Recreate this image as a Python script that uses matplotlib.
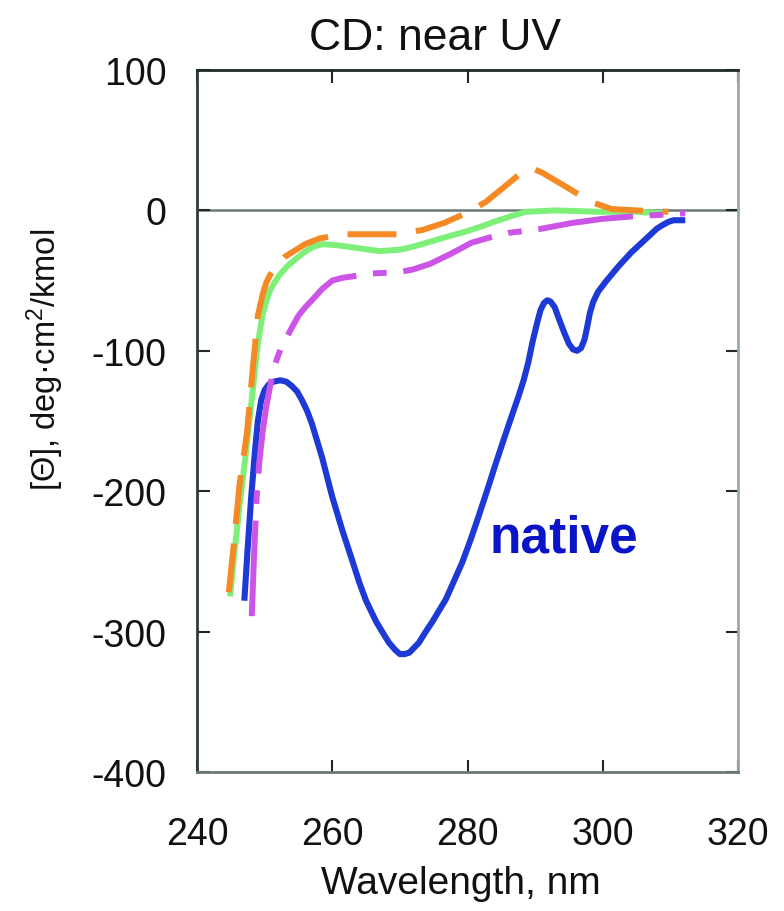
import matplotlib
matplotlib.use("Agg")
import matplotlib.pyplot as plt

plt.rcParams["font.family"] = ["Liberation Sans", "DejaVu Sans"]
plt.rcParams["mathtext.fontset"] = "custom"
plt.rcParams["mathtext.rm"] = "Liberation Sans"
plt.rcParams["mathtext.it"] = "Liberation Sans:italic"
plt.rcParams["mathtext.bf"] = "Liberation Sans:bold"
plt.rcParams["axes.unicode_minus"] = False

# Near-UV CD spectra: mean residue ellipticity vs wavelength
native_wl = [247.0, 247.5, 248.0, 248.6, 249.0, 249.5, 250.0, 250.6, 251.3, 252.3,
             253.2, 254.0, 254.8, 255.5, 256.3, 257.0, 258.5, 260.0, 261.5, 263.0,
             264.0, 265.0, 266.0, 266.5, 267.5, 268.4, 269.3, 270.0, 270.7, 271.4,
             272.0, 272.8, 273.7, 274.8, 275.8, 276.8, 278.0, 279.2, 280.5, 281.7,
             283.0, 284.2, 285.3, 286.5, 287.5, 288.3, 289.0, 289.6, 290.3, 290.8,
             291.3, 291.8, 292.3, 292.9, 293.5, 294.3, 295.0, 295.6, 296.2, 296.8,
             297.3, 297.7, 298.1, 298.6, 299.3, 300.4, 302.3, 304.2, 306.0, 308.0,
             309.0, 309.8, 310.5, 312.2]
native_theta = [-278, -240, -205, -170, -150, -135, -128, -124, -122, -121,
                -122, -125, -129, -135, -143, -152, -176, -204, -228, -250,
                -265, -278, -288, -293, -301, -308, -313, -316, -316, -315,
                -312, -308, -301, -293, -285, -277, -264, -251, -234, -217,
                -198, -180, -164, -147, -133, -121, -108, -94, -80, -71,
                -66, -64, -65, -69, -77, -87, -95, -99, -100, -98,
                -92, -83, -73, -65, -58, -51, -40, -30, -22, -13,
                -10, -8, -7, -7]

green_wl = [244.9, 245.5, 246.3, 247.3, 248.2, 249.0, 249.7, 250.3, 250.8, 251.5,
            252.2, 253.3, 254.5, 255.8, 257.1, 258.6, 261.0, 264.0, 267.0, 270.0,
            271.8, 274.0, 276.8, 279.8, 281.7, 284.0, 286.5, 288.6, 293.0, 299.4,
            305.0, 309.0]
green_theta = [-275, -245, -210, -170, -130, -95, -74, -64, -57, -51,
               -46, -40, -35, -30, -26, -24, -25, -27, -29, -28,
               -26, -23, -19, -15, -12, -8, -4, -1, 0, -1,
               -1, -2]

magenta_wl = [248.1, 248.4, 248.8, 249.2, 249.7, 250.2, 250.7, 251.2, 251.8, 252.5,
              253.3, 254.2, 255.0, 256.0, 257.0, 258.5, 260.0, 261.5, 263.0, 265.5,
              269.9, 272.0, 274.5, 277.5, 280.6, 283.5, 286.1, 291.0, 295.4, 300.0,
              305.0, 309.2, 312.2]
magenta_theta = [-289, -250, -206, -180, -158, -141, -128, -116, -106, -97,
                 -90, -82, -75, -69, -64, -56, -50, -48, -47, -45,
                 -44, -42, -38, -31, -23, -19, -16, -13, -9, -6,
                 -4, -3, -2]

orange_wl = [244.7, 245.5, 246.3, 247.4, 248.3, 249.0, 249.7, 250.2, 250.8, 251.5,
             252.2, 253.0, 254.0, 256.0, 258.1, 261.5, 265.5, 269.5, 273.3, 276.5,
             279.8, 282.7, 285.5, 288.0, 289.5, 291.0, 294.5, 298.3, 301.3, 305.0,
             309.7]
orange_theta = [-272, -235, -195, -158, -110, -75, -60, -52, -46, -41,
                -37, -33, -30, -24, -20, -17, -17, -17, -14, -9,
                -2, 6, 17, 27, 30, 27, 17, 6, 1, 0,
                -1]

x_ticks = [240, 260, 280, 300, 320]
y_ticks = [-400, -300, -200, -100, 0, 100]

fig = plt.figure(figsize=(7.84, 9.12), dpi=100)
ax = fig.add_axes([197 / 784, 1 - 773 / 912, (738 - 197) / 784, (773 - 71) / 912])

ax.axhline(0, color="#6f7878", lw=1.8, zorder=1)

ax.plot(native_wl, native_theta, color="#1e3ad6", lw=4.4, solid_capstyle="butt",
        solid_joinstyle="round", zorder=2)
ax.plot(green_wl, green_theta, color="#7ef07a", lw=4.3, solid_capstyle="butt",
        solid_joinstyle="round", zorder=3)
ax.plot(magenta_wl, magenta_theta, color="#cc55e8", lw=4.3, dashes=(16, 2.8, 2.3, 2.8),
        dash_capstyle="butt", dash_joinstyle="round", zorder=4)
ax.plot(orange_wl, orange_theta, color="#f58a25", lw=4.3, dashes=(8.2, 3.3),
        dash_capstyle="butt", dash_joinstyle="round", zorder=5)

ax.text(294.2, -233, "native", color="#0a14c8", fontsize=37, fontweight="bold",
        ha="center", va="center", zorder=6)

ax.set_xlim(240, 320)
ax.set_ylim(-400, 100)
ax.set_xticks(x_ticks)
ax.set_yticks(y_ticks)
ax.tick_params(direction="in", length=9, width=1.5, color="#202828",
               top=True, right=True, labelsize=27, labelcolor="#111111")
ax.tick_params(axis="x", pad=32)
ax.tick_params(axis="y", pad=22)

ax.spines["top"].set_color("#202828")
ax.spines["left"].set_color("#303a3a")
ax.spines["bottom"].set_color("#6a7878")
ax.spines["right"].set_color("#9aa8a8")
for s in ax.spines.values():
    s.set_linewidth(2.0)

fig.text(435 / 784, 1 - 38 / 912, "CD: near UV", fontsize=32, ha="center", va="center",
         color="#111111")
fig.text(461 / 784, 1 - 884 / 912, "Wavelength, nm", fontsize=28, ha="center", va="center",
         color="#111111")
fig.text(45 / 784, 1 - 360 / 912, r"[Θ], deg·cm$^2$/kmol", fontsize=23.5, rotation=90,
         ha="center", va="center", color="#111111")

fig.savefig("out.png", dpi=100)
